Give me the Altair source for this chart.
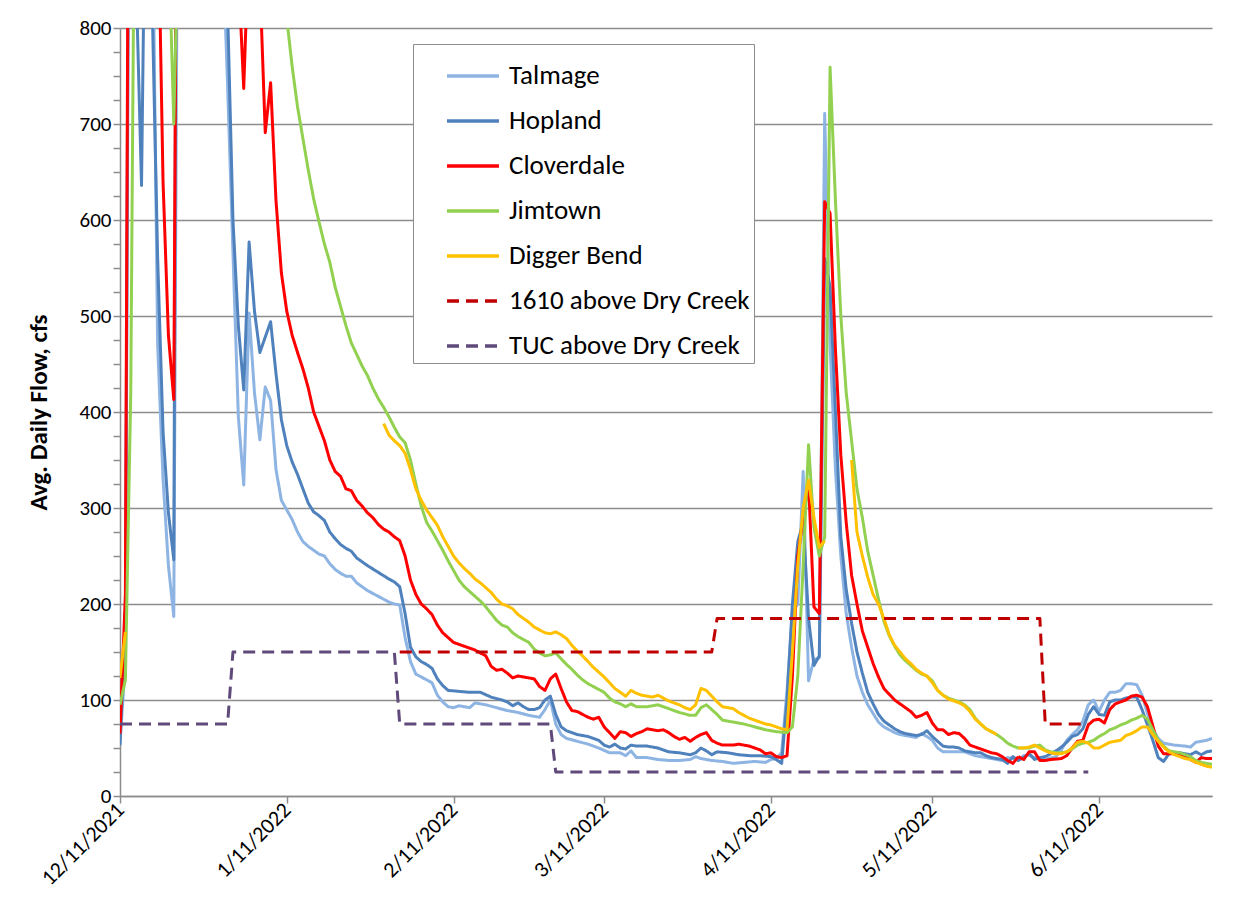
import altair as alt
import pandas as pd

# ---------------- data (day offsets from 12/11/2021, cfs) ----------------
TICK_DAYS = [0, 31, 62, 90, 121, 151, 182]
TICK_LABELS = ["12/11/2021", "1/11/2022", "2/11/2022", "3/11/2022",
               "4/11/2022", "5/11/2022", "6/11/2022"]
X_MAX_DAY = 203

SERIES = ["Talmage", "Hopland", "Cloverdale", "Jimtown", "Digger Bend",
          "1610 above Dry Creek", "TUC above Dry Creek"]
COLORS = ["#8DB4E2", "#4F81BD", "#FF0000", "#92D050", "#FFC000",
          "#C00000", "#604A7B"]

TALMAGE = [(0,55),(1,140),(2,1400),(3,2500),(5,2000),(6,950),(7,470),(8,330),(9,240),(10,187),
 (11,1300),(12,2600),(15,3000),(18,1600),(19,900),(20,740),(21,565),(22,395),(23,324),(24,503),
 (25,420),(26,371),(27,426),(28,412),(29,340),(30,308),(31,298),(32,288),(33,275),(34,265),
 (35,260),(36,256),(37,252),(38,250),(39,242),(40,236),(41,232),(42,229),(43,229),(44,222),
 (45,218),(46,214),(47,211),(48,208),(49,205),(50,202),(51,200),(52,199),(53,165),(54,140),
 (55,127),(57,121),(58,118),(59,105),(60,98),(61,93),(62,92),(63,94),(65,92),(66,97),(68,95),
 (70,92),(72,89),(74,87),(76,84),(78,82),(79,90),(80,100),(81,75),(82,64),(83,60),(85,57),
 (87,54),(89,50),(91,45),(93,45),(94,42),(95,47),(96,40),(98,40),(100,38),(102,37),(104,37),
 (106,38),(107,41),(108,39),(110,37),(112,36),(114,34),(116,35),(118,36),(120,35),(121,38),
 (122,39),(123,45),(124,110),(125,192),(126,200),(127,338),(128,120),(129,142),(130,144),
 (131,711),(132,470),(133,340),(134,250),(135,190),(136,155),(137,125),(138,108),(139,95),
 (140,86),(141,77),(142,72),(143,69),(144,66),(145,64),(146,63),(147,62),(148,61),(149,65),
 (150,62),(151,58),(152,50),(153,46),(155,46),(157,46),(159,42),(161,40),(163,38),(164,37),
 (165,40),(166,39),(167,38),(168,42),(169,43),(170,40),(172,38),(174,41),(175,48),(176,58),
 (177,64),(178,69),(179,78),(180,95),(181,100),(182,88),(183,100),(184,108),(185,108),
 (186,110),(187,117),(188,117),(189,116),(190,105),(191,86),(192,70),(193,60),(194,55),
 (196,53),(198,52),(199,51),(200,56),(201,57),(202,58),(203,60)]

HOPLAND = [(0,53),(1,180),(2,1500),(3,850),(4,636),(5,1100),(6,820),(7,560),(8,380),(9,295),
 (10,246),(11,1800),(12,3000),(16,2500),(19,1100),(20,820),(21,600),(22,490),(23,423),(24,577),
 (25,505),(26,462),(27,478),(28,494),(29,440),(30,392),(31,365),(32,348),(33,335),(34,320),
 (35,305),(36,296),(37,292),(38,287),(39,275),(40,268),(41,262),(42,258),(43,255),(44,248),
 (45,244),(46,240),(48,233),(50,226),(51,223),(52,218),(53,190),(54,155),(55,145),(56,140),
 (57,137),(58,133),(59,122),(60,115),(61,110),(63,109),(65,108),(67,108),(69,103),(71,100),
 (72,98),(73,94),(74,97),(75,93),(76,90),(77,90),(78,92),(79,100),(80,104),(81,85),(82,72),
 (83,68),(85,64),(87,62),(89,58),(90,53),(91,51),(92,54),(93,50),(94,49),(95,53),(96,52),
 (98,52),(100,50),(102,46),(104,45),(106,43),(107,45),(108,50),(109,47),(110,43),(111,46),
 (113,45),(115,43),(117,42),(119,42),(121,41),(122,38),(123,34),(124,100),(125,200),(126,265),
 (127,285),(128,185),(129,136),(130,146),(131,560),(132,530),(133,400),(134,270),(135,215),
 (136,180),(137,150),(138,128),(139,108),(140,96),(141,85),(142,78),(143,74),(144,70),(145,67),
 (146,65),(147,64),(148,63),(149,64),(150,68),(151,62),(152,57),(153,52),(154,51),(155,51),
 (156,50),(157,47),(158,46),(159,45),(160,45),(161,42),(162,40),(163,39),(164,38),(165,34),
 (166,41),(167,37),(168,40),(169,44),(170,38),(171,40),(172,41),(173,44),(174,47),(175,51),
 (176,56),(177,62),(178,64),(179,70),(180,85),(181,93),(182,85),(183,84),(184,98),(185,100),
 (186,100),(187,102),(188,103),(189,103),(190,90),(191,74),(192,58),(193,40),(194,36),(195,44),
 (197,45),(199,43),(200,46),(201,43),(202,46),(203,47)]

CLOVERDALE = [(0,65),(1,210),(2,1600),(3,3000),(5,3500),(7,950),(8,640),(9,480),(10,413),
 (11,1500),(12,3000),(16,3500),(21,1200),(22,860),(23,737),(24,900),(25,1000),(26,850),(27,691),
 (28,743),(29,620),(30,545),(31,505),(32,480),(33,462),(34,445),(35,425),(36,400),(37,385),
 (38,370),(39,350),(40,338),(41,333),(42,320),(43,318),(44,308),(45,302),(46,295),(47,290),
 (48,283),(49,278),(50,275),(51,270),(52,266),(53,250),(54,225),(55,210),(56,200),(57,195),
 (58,189),(59,178),(60,170),(61,165),(62,160),(64,156),(66,152),(68,146),(69,135),(70,131),
 (71,132),(72,128),(73,123),(74,125),(75,124),(77,122),(78,114),(79,110),(80,122),(81,127),
 (82,112),(83,98),(84,89),(85,88),(86,85),(87,82),(88,80),(89,82),(90,72),(91,66),(92,60),
 (93,67),(94,66),(95,62),(96,65),(97,67),(98,70),(99,69),(100,68),(101,69),(102,66),(103,62),
 (104,59),(105,61),(106,57),(107,61),(108,64),(109,66),(110,58),(111,55),(112,53),(114,53),
 (115,54),(116,53),(117,52),(118,50),(119,48),(120,44),(121,45),(122,41),(123,40),(124,42),
 (125,125),(126,250),(127,290),(128,326),(129,197),(130,190),(131,619),(132,607),(133,465),
 (134,355),(135,285),(136,230),(137,200),(138,172),(139,155),(140,138),(141,124),(142,112),
 (143,106),(144,100),(145,96),(146,92),(147,88),(148,82),(149,84),(150,87),(151,76),(152,69),
 (153,69),(154,64),(155,66),(156,65),(157,60),(158,53),(159,51),(160,49),(161,47),(162,45),
 (163,44),(164,41),(165,37),(166,34),(167,41),(168,38),(169,46),(170,46),(171,37),(172,37),
 (173,38),(175,39),(176,42),(177,50),(178,57),(179,58),(180,74),(181,79),(182,80),(183,76),
 (184,90),(185,96),(186,98),(187,100),(188,104),(189,105),(190,103),(191,93),(192,73),(193,52),
 (194,44),(196,44),(198,42),(199,38),(200,35),(201,40),(202,39),(203,39)]

JIMTOWN = [(0,95),(1,121),(2,420),(3,1200),(5,2500),(8,1500),(9,900),(10,700),(11,950),
 (12,1800),(15,3000),(22,2000),(28,1200),(30,880),(31,810),(32,760),(33,718),(34,685),(35,652),
 (36,622),(37,598),(38,575),(39,556),(40,530),(41,510),(42,490),(43,472),(44,460),(45,448),
 (46,438),(47,425),(48,414),(49,405),(50,395),(51,384),(52,374),(53,368),(54,350),(55,325),
 (56,302),(57,285),(58,276),(59,266),(60,256),(61,245),(62,235),(63,225),(64,218),(65,213),
 (66,208),(67,203),(68,197),(69,190),(70,183),(71,178),(72,176),(73,170),(74,166),(75,163),
 (76,160),(77,153),(78,149),(79,146),(80,147),(81,149),(82,143),(83,137),(84,132),(85,126),
 (86,121),(87,117),(88,114),(89,111),(90,108),(91,102),(92,98),(93,96),(94,93),(95,96),(96,93),
 (98,93),(100,95),(101,93),(102,91),(104,87),(106,84),(107,84),(108,92),(109,95),(110,90),
 (111,85),(112,79),(113,78),(114,77),(116,75),(118,72),(120,69),(122,67),(124,66),(125,72),
 (126,125),(127,240),(128,366),(129,280),(130,250),(131,270),(132,759),(133,620),(134,500),
 (135,420),(136,370),(137,320),(138,290),(139,255),(140,230),(141,205),(142,182),(143,167),
 (144,156),(145,147),(146,141),(147,136),(148,131),(149,127),(150,125),(151,120),(152,110),
 (153,105),(154,102),(155,100),(156,98),(157,95),(158,90),(159,81),(160,75),(161,70),(162,67),
 (163,64),(164,60),(165,55),(166,52),(167,50),(168,50),(169,50),(170,52),(171,53),(172,48),
 (173,46),(174,45),(175,45),(176,46),(177,49),(178,53),(179,55),(180,56),(181,58),(182,62),
 (183,65),(184,69),(185,71),(186,74),(187,76),(188,79),(189,81),(190,84),(191,80),(192,69),
 (193,58),(194,52),(195,47),(196,46),(197,45),(198,43),(199,41),(200,37),(201,35),(202,34),
 (203,33)]

# None marks a gap in the record
DIGGER_BEND = [(0,123),(1,171),(None,None),
 (49,388),(50,376),(51,370),(52,365),(53,357),(54,340),(55,320),(56,308),(57,298),(58,290),
 (59,282),(60,270),(61,260),(62,250),(63,243),(64,237),(65,232),(66,226),(67,222),(68,217),
 (69,212),(70,205),(71,200),(72,198),(73,195),(74,189),(75,185),(76,181),(77,176),(78,173),
 (79,170),(80,169),(81,171),(82,168),(83,164),(84,157),(85,151),(86,146),(87,140),(88,134),
 (89,129),(90,124),(91,118),(92,112),(93,108),(94,104),(95,110),(96,107),(97,105),(98,104),
 (99,103),(100,105),(101,102),(102,99),(103,97),(104,95),(105,92),(106,90),(107,95),(108,112),
 (109,110),(110,104),(111,98),(112,93),(113,92),(114,91),(115,87),(116,84),(117,81),(118,79),
 (119,77),(120,75),(121,74),(122,72),(123,70),(124,69),(125,150),(126,240),(127,300),(128,329),
 (129,290),(130,259),(131,266),(None,None),
 (136,350),(137,275),(138,250),(139,228),(140,210),(141,200),(142,185),(143,168),(144,157),
 (145,150),(146,143),(147,138),(148,132),(149,128),(150,125),(151,118),(152,110),(153,105),
 (154,101),(155,99),(156,97),(157,94),(158,88),(159,80),(160,75),(161,70),(162,67),(163,64),
 (None,None),
 (167,50),(168,50),(169,51),(170,53),(171,50),(172,47),(173,45),(174,44),(175,44),(176,46),
 (177,50),(178,56),(179,57),(180,55),(181,50),(182,50),(183,53),(184,56),(185,57),(186,58),
 (187,63),(188,65),(189,68),(190,72),(191,72),(192,64),(193,57),(194,51),(195,46),(196,43),
 (197,41),(198,39),(199,38),(200,35),(201,33),(202,31),(203,30)]

FLOW_1610 = [(52,150),(110,150),(111,185),(171,185),(172,75),(180,75)]
FLOW_TUC = [(0,75),(20,75),(21,150),(51,150),(52,75),(80,75),(81,25),(180,25)]

ALL = [TALMAGE, HOPLAND, CLOVERDALE, JIMTOWN, DIGGER_BEND, FLOW_1610, FLOW_TUC]

rows = []
for name, pts in zip(SERIES, ALL):
    seg = 0
    for d, v in pts:
        if v is None:
            seg += 1
            continue
        rows.append({"series": name, "day": d, "cfs": v, "seg": seg})
df = pd.DataFrame(rows)

# ---------------- styling ----------------
FONT = "Carlito, Lato, Liberation Sans, sans-serif"
GRAY = "#8c8c8c"

label_expr = "".join(
    f"datum.value == {d} ? '{t}' : " for d, t in zip(TICK_DAYS, TICK_LABELS)
) + "''"

x_enc = alt.X(
    "day:Q",
    scale=alt.Scale(domain=[0, X_MAX_DAY], nice=False, zero=False),
    axis=alt.Axis(
        values=TICK_DAYS, labelExpr=label_expr, title=None, grid=False,
        labelAngle=-45, labelAlign="right", labelBaseline="middle",
        labelFont=FONT, labelFontSize=22, labelColor="black",
        domainColor=GRAY, domainWidth=1.5, tickColor=GRAY, tickWidth=1.5,
        tickSize=7, labelPadding=3, labelFlush=False, labelOverlap=False,
        labelBound=False,
    ),
)
y_enc = alt.Y(
    "cfs:Q",
    scale=alt.Scale(domain=[0, 800], nice=False),
    axis=alt.Axis(
        values=list(range(0, 801, 25)),
        labelExpr="datum.value % 100 === 0 ? datum.label : ''",
        gridOpacity={"condition": {"test": "datum.value % 100 === 0", "value": 1}, "value": 0},
        gridColor=GRAY, gridWidth=1.5,
        title="Avg. Daily Flow, cfs", titleFont=FONT, titleFontSize=25,
        titleFontWeight="bold", titleColor="black", titlePadding=28,
        labelFont=FONT, labelFontSize=21, labelColor="black", labelPadding=2,
        domainColor=GRAY, domainWidth=1.5, tickColor=GRAY, tickWidth=1.5,
        tickSize=7, labelOverlap=False, labelFlush=False,
    ),
)
color_enc = alt.Color(
    "series:N",
    scale=alt.Scale(domain=SERIES, range=COLORS),
    legend=alt.Legend(
        title=None, orient="none", legendX=293, legendY=16,
        symbolType="stroke", symbolSize=2700, symbolStrokeWidth=3.5,
        labelFont=FONT, labelFontSize=27, labelColor="black", labelOffset=8,
        strokeColor=GRAY, fillColor="white", padding=4, rowPadding=4,
        symbolOffset=28, labelLimit=400,
    ),
)
dash_enc = alt.StrokeDash(
    "series:N",
    scale=alt.Scale(domain=SERIES,
                    range=[[1, 0]] * 5 + [[12, 7]] * 2),
    legend=alt.Legend(title=None),
)

layers = []
for name in SERIES:
    layers.append(
        alt.Chart(df)
        .transform_filter(alt.datum.series == name)
        .mark_line(strokeWidth=3, clip=True, strokeCap="butt", strokeJoin="round")
        .encode(x=x_enc, y=y_enc, color=color_enc, strokeDash=dash_enc,
                detail="seg:N", order="day:Q")
    )

chart = (
    alt.layer(*layers)
    .properties(
        width=1092, height=768,
        autosize=alt.AutoSizeParams(type="none"),
        padding={"left": 112, "top": 20, "right": 20, "bottom": 99},
        background="white",
    )
    .configure_view(stroke=None)
)

chart.save("out.html", embed_options={"renderer": "svg", "actions": False})
